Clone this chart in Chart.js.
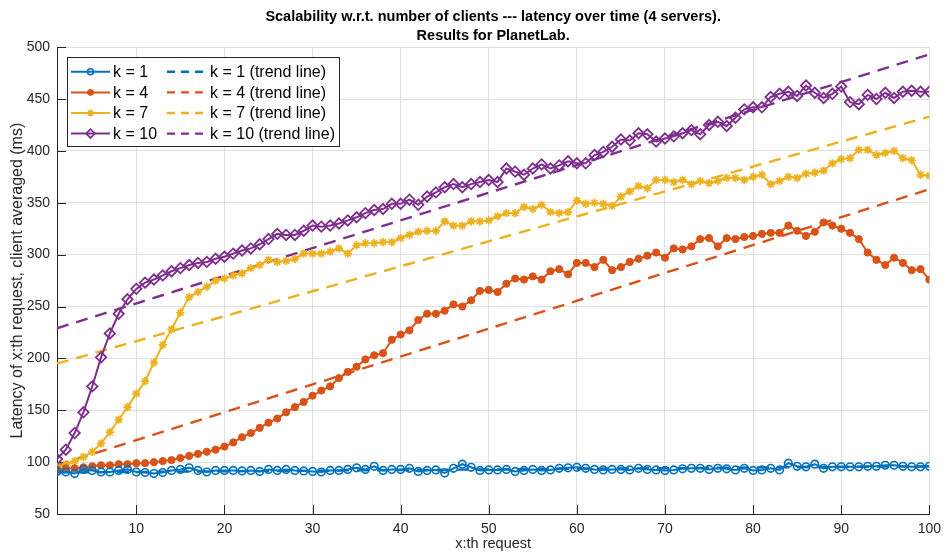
<!DOCTYPE html>
<html>
<head>
<meta charset="utf-8">
<title>Scalability - latency over time</title>
<script src="https://cdn.jsdelivr.net/npm/chart.js"></script>
<style>
  body { margin: 0; background: #fff; }
  #wrap { width: 948px; height: 555px; }
</style>
</head>
<body>
<div id="wrap"><canvas id="myChart" width="948" height="555"></canvas></div>
<script>
// x:th request, 1..100
const requests = Array.from({length: 100}, (_, i) => i + 1);

const seriesNames = ['k = 1', 'k = 4', 'k = 7', 'k = 10'];
const seriesColors = ['#0072BD', '#D95319', '#EDB120', '#7E2F8E'];

// latency (ms), client averaged
const k1 = [
  91, 90.5, 89, 93, 92, 90.5, 90.5, 92, 93, 90.5,
  90, 89, 90, 92, 93, 94.5, 92, 90.5, 92, 92,
  92, 91.5, 92, 91, 93, 92, 93, 92, 91.5, 91,
  90.5, 92, 92, 93, 94.5, 93, 96, 92, 93, 93,
  94, 91, 92, 92.5, 89.5, 94, 98, 95, 92, 92.5,
  92.5, 93, 91, 92, 93, 92, 92.5, 94, 94.5, 95,
  94, 93, 92.5, 93, 93, 92.5, 94, 93, 92.5, 92,
  92.5, 93.5, 94, 94, 93, 94, 93.5, 92.5, 94, 92,
  92.5, 94, 92.5, 99, 96, 95.5, 98, 94, 95.5, 95.5,
  95.5, 95.5, 96, 96, 97, 97, 96, 95.5, 95.5, 96
];
const k4 = [
  93, 94, 94, 95, 96, 97, 97, 98, 98, 99,
  99, 100, 101, 102, 104, 106, 108, 110, 112, 115,
  119, 124, 128, 133, 138, 142, 148, 153, 158, 164,
  169, 173, 181, 187, 192, 199, 203, 205, 218, 223,
  227, 237, 243, 243, 246, 252, 250, 256, 265, 266,
  264, 272, 277, 276, 279, 276, 284, 286, 281, 292,
  292, 288, 295, 285, 288, 293, 296, 299, 302, 297,
  306, 305, 308, 315, 316, 308, 316, 315, 317, 318,
  320, 321, 321, 328, 323, 318, 322, 331, 328, 325,
  321, 315, 302, 295, 290, 297, 292, 285, 286, 276
];
const k7 = [
  95, 98, 101, 105, 110, 118, 129, 141, 153, 166,
  178, 196, 213, 228, 244, 259, 264, 269, 275, 277,
  280, 282, 287, 290, 295, 293, 294, 296, 301, 301,
  301, 303, 306, 301, 309, 311, 311, 312, 312, 316,
  319, 322, 323, 323, 332, 328, 328, 332, 332, 333,
  337, 340, 340, 346, 344, 348, 341, 340, 341, 352,
  349, 350, 349, 347, 356, 361, 366, 364, 372, 372,
  370, 372, 368, 371, 369, 371, 374, 374, 372, 375,
  377, 368, 371, 375, 374, 378, 379, 381, 388, 392,
  393, 401, 401, 396, 398, 400, 393, 391, 377, 376
];
const k10 = [
  103, 112, 128, 148, 173, 201, 224, 243, 257, 267,
  273, 276, 280, 284, 287, 290, 292, 293, 296, 298,
  301, 304, 306, 310, 315, 320, 319, 319, 323, 328,
  327, 328, 330, 333, 336, 340, 343, 344, 349, 349,
  353, 348, 356, 360, 365, 368, 365, 368, 370, 372,
  370, 383, 380, 377, 383, 387, 383, 386, 390, 388,
  388, 396, 399, 404, 411, 410, 417, 416, 409, 412,
  414, 417, 420, 416, 425, 428, 424, 432, 440, 442,
  442, 452, 455, 457, 453, 463, 456, 451, 455, 462,
  447, 445, 454, 450, 456, 451, 457, 458, 457, 457
];

// linear fits, value at the first and at the last request
const trendStart = [90, 97, 195, 229];
const trendEnd = [96, 363, 433, 493];

const xTicks = [10, 20, 30, 40, 50, 60, 70, 80, 90, 100];

const FONT = "'Liberation Sans', Arial, Helvetica, sans-serif";
const AXIS = '#262626';
const GRID = '#dfdfdf';

const markers = [
  {style: 'circle', radius: 3.8, fill: 'rgba(0,0,0,0)', width: 1.6},
  {style: 'circle', radius: 3.6, fill: null, width: 1},
  {style: 'star', radius: 4.2, fill: 'rgba(0,0,0,0)', width: 1.7},
  {style: 'rectRot', radius: 5.2, fill: 'rgba(0,0,0,0)', width: 1.8}
];

const values = [k1, k4, k7, k10];
const datasets = [];

values.forEach(function(v, i) {
  const m = markers[i];
  datasets.push({
    label: seriesNames[i],
    data: v,
    borderColor: seriesColors[i],
    borderWidth: 2,
    pointStyle: m.style,
    pointRadius: m.radius,
    pointBorderWidth: m.width,
    pointBorderColor: seriesColors[i],
    pointBackgroundColor: m.fill || seriesColors[i],
    tension: 0
  });
});

values.forEach(function(v, i) {
  datasets.push({
    label: seriesNames[i] + ' (trend line)',
    data: [{x: requests[0], y: trendStart[i]}, {x: requests[requests.length - 1], y: trendEnd[i]}],
    borderColor: seriesColors[i],
    borderWidth: 2.4,
    borderDash: [12, 8],
    pointRadius: 0
  });
});

// small marker for the legend samples
function drawMarker(ctx, style, x, y, r, color, fill, lw) {
  ctx.save();
  ctx.strokeStyle = color;
  ctx.fillStyle = fill || color;
  ctx.lineWidth = lw;
  ctx.beginPath();
  if (style === 'circle') {
    ctx.arc(x, y, r, 0, Math.PI * 2);
    ctx.fill();
    ctx.stroke();
  } else if (style === 'rectRot') {
    ctx.moveTo(x, y - r);
    ctx.lineTo(x + r, y);
    ctx.lineTo(x, y + r);
    ctx.lineTo(x - r, y);
    ctx.closePath();
    ctx.stroke();
  } else if (style === 'star') {
    for (let a = 0; a < 4; a++) {
      const ang = a * Math.PI / 4;
      ctx.moveTo(x - r * Math.cos(ang), y - r * Math.sin(ang));
      ctx.lineTo(x + r * Math.cos(ang), y + r * Math.sin(ang));
    }
    ctx.stroke();
  }
  ctx.restore();
}

// boxed two column legend in the upper left corner
const boxLegend = {
  id: 'boxLegend',
  afterDatasetsDraw(chart) {
    const ctx = chart.ctx;
    const left = 67, top = 57, w = 273, h = 90;
    const rowH = 20.6, firstRow = top + 14.8;

    ctx.save();
    ctx.fillStyle = '#fff';
    ctx.fillRect(left, top, w, h);
    ctx.strokeStyle = AXIS;
    ctx.lineWidth = 1;
    ctx.strokeRect(left + 0.5, top + 0.5, w - 1, h - 1);

    ctx.font = '16px ' + FONT;
    ctx.textBaseline = 'middle';
    ctx.textAlign = 'left';

    for (let i = 0; i < seriesNames.length; i++) {
      const y = firstRow + i * rowH;
      const color = seriesColors[i];

      // solid sample with marker
      ctx.strokeStyle = color;
      ctx.lineWidth = 2;
      ctx.setLineDash([]);
      ctx.beginPath();
      ctx.moveTo(71, y);
      ctx.lineTo(110, y);
      ctx.stroke();
      const m = markers[i];
      drawMarker(ctx, m.style, 90.5, y, Math.max(m.radius - 0.8, 3), color, m.fill, m.width);
      ctx.fillStyle = '#000';
      ctx.fillText(seriesNames[i], 113, y + 1);

      // dashed sample
      ctx.strokeStyle = color;
      ctx.lineWidth = 2.4;
      ctx.setLineDash([8, 6]);
      ctx.beginPath();
      ctx.moveTo(167, y);
      ctx.lineTo(207, y);
      ctx.stroke();
      ctx.setLineDash([]);
      ctx.fillStyle = '#000';
      ctx.fillText(seriesNames[i] + ' (trend line)', 210, y + 1);
    }
    ctx.restore();
  }
};

// inward tick marks on the left and bottom axes
const innerTicks = {
  id: 'innerTicks',
  beforeDatasetsDraw(chart) {
    const ctx = chart.ctx;
    const area = chart.chartArea;
    const xs = chart.scales.x, ys = chart.scales.y;
    ctx.save();
    ctx.strokeStyle = AXIS;
    ctx.lineWidth = 1;
    ctx.beginPath();
    xTicks.forEach(function(v) {
      const px = Math.round(xs.getPixelForValue(v)) + 0.5;
      ctx.moveTo(px, area.bottom);
      ctx.lineTo(px, area.bottom - 9);
    });
    ys.ticks.forEach(function(t) {
      const py = Math.round(ys.getPixelForValue(t.value)) + 0.5;
      ctx.moveTo(area.left, py);
      ctx.lineTo(area.left + 9, py);
    });
    ctx.stroke();
    ctx.restore();
  }
};

const ctx = document.getElementById('myChart').getContext('2d');

const config = {
  type: 'line',
  data: {
    labels: requests,
    datasets: datasets
  },
  options: {
    responsive: false,
    animation: false,
    layout: { padding: { left: 0, right: 13, top: 0, bottom: 0 } },
    plugins: {
      legend: { display: false },
      tooltip: { enabled: false },
      title: {
        display: true,
        fullSize: false,
        text: ['Scalability w.r.t. number of clients --- latency over time (4 servers).', 'Results for PlanetLab.'],
        color: '#000',
        font: { family: FONT, size: 14.5, weight: 'bold', lineHeight: 1.35 },
        padding: { top: 7, bottom: 1 }
      }
    },
    scales: {
      x: {
        type: 'linear',
        min: 1,
        max: 100,
        afterBuildTicks: function(scale) {
          scale.ticks = xTicks.map(v => ({value: v}));
        },
        afterFit: function(scale) { scale.height = 41; },
        grid: { color: GRID, drawTicks: false },
        border: { display: true, color: AXIS },
        ticks: {
          color: AXIS,
          padding: 7,
          maxRotation: 0,
          font: { family: FONT, size: 14 }
        },
        title: {
          display: true,
          text: 'x:th request',
          color: AXIS,
          font: { family: FONT, size: 14.5 },
          padding: { top: 0, bottom: 2 }
        }
      },
      y: {
        min: 50,
        max: 500,
        afterFit: function(scale) { scale.width = 57; },
        grid: { color: GRID, drawTicks: false },
        border: { display: true, color: AXIS },
        ticks: {
          stepSize: 50,
          color: AXIS,
          padding: 7,
          font: { family: FONT, size: 14 }
        },
        title: {
          display: true,
          text: 'Latency of x:th request, client averaged (ms)',
          color: AXIS,
          font: { family: FONT, size: 16 },
          padding: { top: 8, bottom: 0 }
        }
      }
    }
  },
  plugins: [innerTicks, boxLegend]
};

const myChart = new Chart(ctx, config);
</script>
</body>
</html>
